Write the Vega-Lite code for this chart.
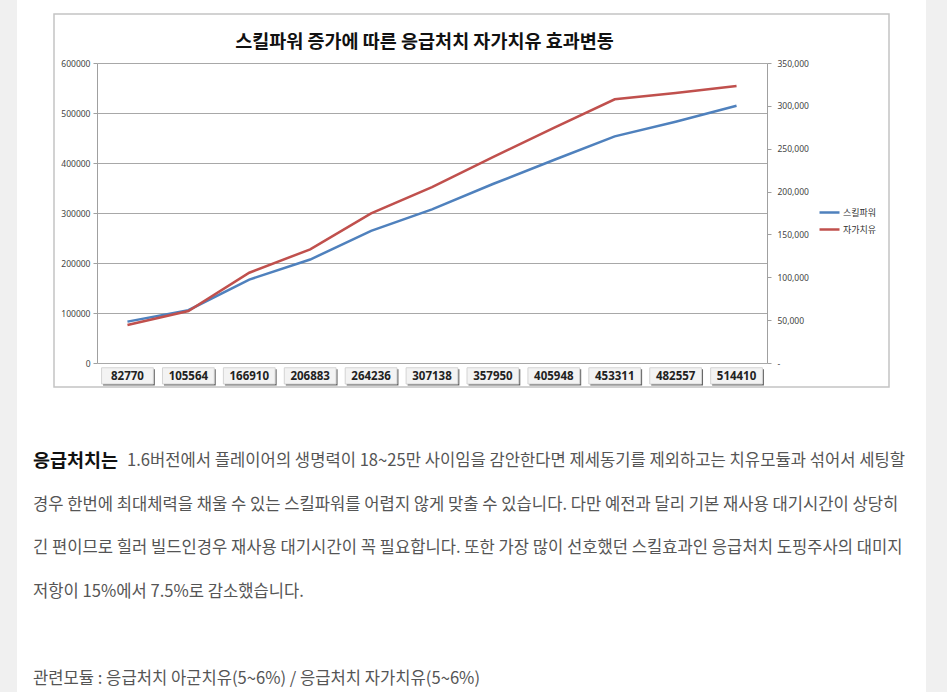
{
  "$schema": "https://vega.github.io/schema/vega-lite/v6.json",
  "background": "white",
  "padding": 0,
  "spacing": 0,
  "config": {
    "view": {"stroke": null},
    "font": "Noto Sans CJK KR"
  },
  "hconcat": [
    {
      "width": 17, "height": 692,
      "view": {"fill": "#f0f0f0", "stroke": null},
      "data": {"values": []},
      "mark": "point"
    },
    {
      "spacing": 0,
      "center": true,
      "bounds": "flush",
      "vconcat": [
        {
          "width": 909, "height": 14,
          "view": {"stroke": null},
          "data": {"values": []},
          "mark": "point"
        },
        {
          "width": 835, "height": 373,
          "view": {"fill": "white", "stroke": "#c4c4c4", "strokeWidth": 1.5},
          "title": {
            "text": "스킬파워 증가에 따른 응급처치 자가치유 효과변동",
            "font": "Noto Sans CJK KR", "fontSize": 18.5, "fontWeight": "bold", "color": "#111111",
            "anchor": "middle", "frame": "group", "dx": -47, "offset": -37
          },
          "data": {"values": [
            {"skill": 82770, "heal": 44300},
            {"skill": 105564, "heal": 60700},
            {"skill": 166910, "heal": 105300},
            {"skill": 206883, "heal": 132600},
            {"skill": 264236, "heal": 174600},
            {"skill": 307138, "heal": 205300},
            {"skill": 357950, "heal": 240300},
            {"skill": 405948, "heal": 274200},
            {"skill": 453311, "heal": 307700},
            {"skill": 482557, "heal": 315000},
            {"skill": 514410, "heal": 323200}
          ]},
          "encoding": {
            "x": {
              "field": "skill", "type": "ordinal",
              "scale": {"type": "band", "range": [43, 713], "paddingInner": 0.15, "paddingOuter": 0.075},
              "axis": {
                "orient": "bottom", "offset": -24, "title": null, "domain": false, "ticks": false, "tickSize": 0,
                "grid": false, "labelAngle": 0, "labelPadding": 7, "labelFontSize": 11.5, "labelFontWeight": "bold",
                "labelColor": "#222222", "labelFont": "Noto Sans"
              }
            }
          },
          "layer": [
            {
              "layer": [
                {
                  "mark": {"type": "rect", "color": "#666666", "xOffset": 1.5, "yOffset": 1.5, "y2Offset": 1.5},
                  "encoding": {
                    "y": {"datum": -9500, "type": "quantitative"},
                    "y2": {"datum": -42000}
                  }
                },
                {
                  "mark": {"type": "rect", "fill": "#f3f3f3", "stroke": "#d4d4d4", "strokeWidth": 1},
                  "encoding": {
                    "y": {"datum": -9500, "type": "quantitative"},
                    "y2": {"datum": -42000}
                  }
                },
                {
                  "mark": {"type": "line", "strokeWidth": 2.5},
                  "encoding": {
                    "y": {
                      "field": "skill", "type": "quantitative",
                      "scale": {"domain": [0, 600000], "range": [349, 49], "nice": false, "zero": true},
                      "axis": {
                        "orient": "left", "offset": -43, "title": null,
                        "values": [0, 100000, 200000, 300000, 400000, 500000, 600000],
                        "format": "d", "grid": true, "gridColor": "#a8a8a8", "gridWidth": 1,
                        "domain": true, "domainColor": "#a0a0a0", "ticks": true, "tickSize": 4, "tickColor": "#a0a0a0",
                        "labelPadding": 3, "labelFontSize": 8.5, "labelColor": "#444444", "labelFont": "Noto Sans"
                      }
                    },
                    "color": {"datum": "스킬파워"}
                  }
                }
              ]
            },
            {
              "mark": {"type": "line", "strokeWidth": 2.5},
              "encoding": {
                "y": {
                  "field": "heal", "type": "quantitative",
                  "scale": {"domain": [0, 350000], "range": [349, 49], "nice": false},
                  "axis": {
                    "orient": "right", "offset": -122, "title": null,
                    "values": [0, 50000, 100000, 150000, 200000, 250000, 300000, 350000],
                    "labelExpr": "datum.value == 0 ? '-' : format(datum.value, ',')",
                    "grid": false, "domain": true, "domainColor": "#a0a0a0", "ticks": true, "tickSize": 4, "tickColor": "#a0a0a0",
                    "labelPadding": 6, "labelFontSize": 8.5, "labelColor": "#444444", "labelFont": "Noto Sans"
                  }
                },
                "color": {
                  "datum": "자가치유",
                  "scale": {"domain": ["스킬파워", "자가치유"], "range": ["#4F81BD", "#C0504D"]},
                  "legend": {
                    "orient": "none", "legendX": 818, "legendY": 201, "title": null, "padding": 0,
                    "symbolType": "stroke", "symbolSize": 400, "symbolStrokeWidth": 2.5,
                    "labelFontSize": 9, "labelFont": "Noto Sans CJK KR", "labelColor": "#333333",
                    "labelOffset": 2, "rowPadding": -3
                  }
                }
              }
            }
          ],
          "resolve": {"scale": {"y": "independent"}}
        },
        {
          "width": 877, "height": 305,
          "view": {"stroke": null},
          "data": {"values": [
            {"line": 1, "kind": "lead", "text": "응급처치는"},
            {"line": 1, "kind": "rest", "text": "1.6버전에서 플레이어의 생명력이 18~25만 사이임을 감안한다면 제세동기를 제외하고는 치유모듈과 섞어서 세팅할"},
            {"line": 2, "kind": "body", "text": "경우 한번에 최대체력을 채울 수 있는 스킬파워를 어렵지 않게 맞출 수 있습니다. 다만 예전과 달리 기본 재사용 대기시간이 상당히"},
            {"line": 3, "kind": "body", "text": "긴 편이므로 힐러 빌드인경우 재사용 대기시간이 꼭 필요합니다. 또한 가장 많이 선호했던 스킬효과인 응급처치 도핑주사의 대미지"},
            {"line": 4, "kind": "body", "text": "저항이 15%에서 7.5%로 감소했습니다."},
            {"line": 6, "kind": "body", "text": "관련모듈 : 응급처치 아군치유(5~6%) / 응급처치 자가치유(5~6%)"}
          ]},
          "encoding": {
            "x": {"datum": 0, "type": "quantitative", "scale": {"domain": [0, 1]}, "axis": null},
            "y": {"field": "line", "type": "quantitative", "scale": {"domain": [-0.7, 6.3], "reverse": true, "nice": false, "zero": false}, "axis": null},
            "text": {"field": "text"}
          },
          "layer": [
            {
              "transform": [{"filter": "datum.kind == 'lead'"}],
              "mark": {"type": "text", "align": "left", "baseline": "middle", "fontSize": 18.5, "fontWeight": "bold", "color": "#111111", "font": "Noto Sans CJK KR"}
            },
            {
              "transform": [{"filter": "datum.kind == 'rest'"}],
              "mark": {"type": "text", "align": "left", "baseline": "middle", "fontSize": 16.6, "color": "#555555", "dx": 94, "font": "Noto Sans CJK KR"}
            },
            {
              "transform": [{"filter": "datum.kind == 'body'"}],
              "mark": {"type": "text", "align": "left", "baseline": "middle", "fontSize": 16.6, "color": "#555555", "font": "Noto Sans CJK KR"}
            }
          ]
        }
      ]
    },
    {
      "width": 21, "height": 692,
      "view": {"fill": "#f0f0f0", "stroke": null},
      "data": {"values": []},
      "mark": "point"
    }
  ]
}
